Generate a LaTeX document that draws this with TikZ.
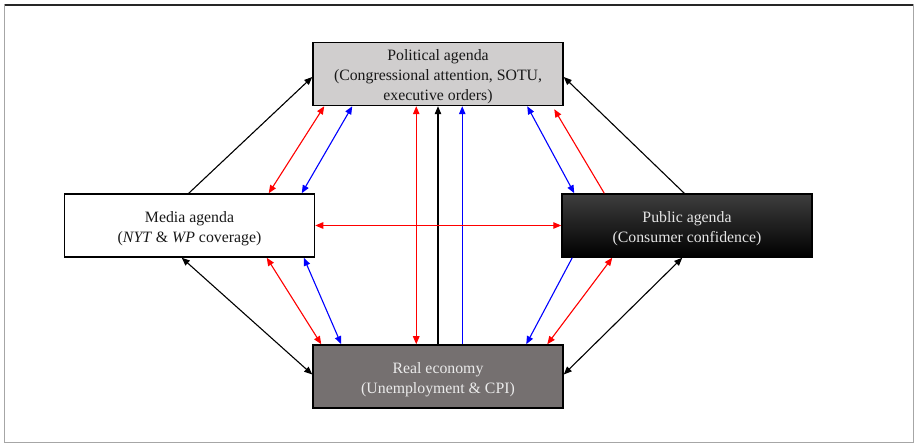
\documentclass[tikz,border=0pt]{standalone}
\usepackage{fontspec}
\setmainfont{Liberation Serif}
\usetikzlibrary{arrows.meta}
\begin{document}
\begin{tikzpicture}[x=1pt,y=1pt,
  agendabox/.style={draw=black, line width=1.5pt, minimum width=250pt, minimum height=63pt,
    inner sep=0pt},
  agendatext/.style={align=center, inner sep=0pt, font=\fontsize{15.8}{20}\selectfont},
  link/.style={line width=1.1pt},
  tip/.tip={Triangle[length=8pt,width=6.5pt]},
  redlink/.style={link, draw={rgb,255:red,255;green,0;blue,0}},
  bluelink/.style={link, draw={rgb,255:red,0;green,0;blue,255}},
  blacklink/.style={link, draw=black}
]
\useasboundingbox (0,0) rectangle (917,446);
% outer frame
\draw[gray!70, line width=1pt] (4.5,3) rectangle (913,441);
\draw[black!85, line width=1.6pt] (4.5,441) -- (913,441);

% the four agendas
\node[agendabox, fill={rgb,255:red,208;green,206;blue,206}] (pol) at (438,372) {};
\node[agendabox, fill=white] (med) at (189.5,220.5) {};
\node[agendabox, top color={rgb,255:red,62;green,62;blue,62}, middle color=black, bottom color=black] (pub) at (687,220.5) {};
\node[agendabox, fill={rgb,255:red,117;green,112;blue,112}] (eco) at (438,69.5) {};

\node[agendatext, text=black!90] (poltext) at ([yshift=-3pt]pol.center)
  {Political agenda\\(Congressional attention, SOTU,\\executive orders)};
\node[agendatext, text=black!90] (medtext) at ([yshift=-3.5pt]med.center)
  {Media agenda\\(\textit{NYT} \& \textit{WP} coverage)};
\node[agendatext, text=black!10] (pubtext) at ([yshift=-3.5pt]pub.center)
  {Public agenda\\(Consumer confidence)};
\node[agendatext, text=black!8] (ecotext) at ([yshift=-3.5pt]eco.center)
  {Real economy\\(Unemployment \& CPI)};

% media <-> political
\draw[blacklink, -{tip}] ([xshift=125pt]med.north west) -- ([yshift=-3pt]pol.west);
\draw[redlink, {tip}-{tip}] ([xshift=205pt]med.north west) -- ([xshift=12pt]pol.south west);
\draw[bluelink, {tip}-{tip}] ([xshift=238pt]med.north west) -- ([xshift=40pt]pol.south west);

% public <-> political
\draw[blacklink, -{tip}] ([xshift=123pt]pub.north west) -- ([yshift=-3pt]pol.east);
\draw[bluelink, {tip}-{tip}] ([xshift=13pt]pub.north west) -- ([xshift=215pt]pol.south west);
\draw[redlink, -{tip}] ([xshift=43pt]pub.north west) -- ([xshift=242pt,yshift=-3pt]pol.south west);

% economy <-> political
\draw[redlink, {tip}-{tip}] ([xshift=104pt]eco.north west) -- ([xshift=104pt]pol.south west);
\draw[blacklink, -{tip}] (eco.north) -- (pol.south);
\draw[bluelink, -{tip}] ([xshift=150pt]eco.north west) -- ([xshift=150pt]pol.south west);

% media <-> public
\draw[redlink, {tip}-{tip}] (med.east) -- (pub.west);

% media <-> economy
\draw[blacklink, {tip}-{tip}] ([xshift=118pt]med.south west) -- ([yshift=2pt]eco.west);
\draw[redlink, {tip}-{tip}] ([xshift=203pt]med.south west) -- ([xshift=9pt]eco.north west);
\draw[bluelink, {tip}-{tip}] ([xshift=240pt]med.south west) -- ([xshift=29pt]eco.north west);

% public <-> economy
\draw[bluelink, -{tip}] ([xshift=11pt]pub.south west) -- ([xshift=214pt]eco.north west);
\draw[redlink, {tip}-{tip}] ([xshift=51pt]pub.south west) -- ([xshift=235pt]eco.north west);
\draw[blacklink, {tip}-{tip}] ([xshift=121pt]pub.south west) -- ([yshift=2pt]eco.east);
\end{tikzpicture}
\end{document}
